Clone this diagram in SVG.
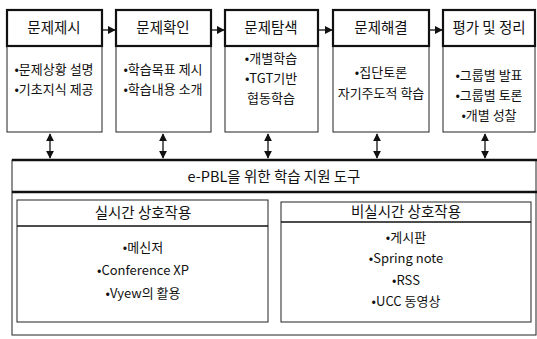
<svg xmlns="http://www.w3.org/2000/svg" width="537" height="339" viewBox="0 0 537 339">
<style>
text{font-family:"Noto Sans CJK KR","Liberation Sans",sans-serif;fill:#111;text-anchor:middle}
.h{font-size:14.5px}
.t{font-size:13px}
.head{fill:#fff;stroke:#111;stroke-width:2.2}
.body{fill:#fff;stroke:#222;stroke-width:1}
.ln{stroke:#111;stroke-width:1.3;fill:none}
.thick{stroke:#111;stroke-width:2.5;fill:none}
</style>
<defs>
<marker id="ah" viewBox="0 0 10 10" refX="9" refY="5" markerWidth="6" markerHeight="6" orient="auto-start-reverse"><path d="M0,0L10,5L0,10z" fill="#111"/></marker>
</defs>
<g id="step1">
<rect class="body" x="7" y="46" width="95" height="86"/>
<rect class="head" x="7" y="10" width="95" height="36"/>
<text class="h" x="54" y="33">문제제시</text>
<text class="t" x="54" y="74">•문제상황 설명</text>
<text class="t" x="54" y="94">•기초지식 제공</text>
</g>
<g id="step2">
<rect class="body" x="116" y="46" width="95" height="86"/>
<rect class="head" x="116" y="10" width="95" height="36"/>
<text class="h" x="163" y="33">문제확인</text>
<text class="t" x="163" y="74">•학습목표 제시</text>
<text class="t" x="163" y="94">•학습내용 소개</text>
</g>
<g id="step3">
<rect class="body" x="225" y="46" width="93" height="86"/>
<rect class="head" x="225" y="10" width="93" height="36"/>
<text class="h" x="271" y="33">문제탐색</text>
<text class="t" x="271" y="63">•개별학습</text>
<text class="t" x="271" y="83">•TGT기반</text>
<text class="t" x="271" y="103">협동학습</text>
</g>
<g id="step4">
<rect class="body" x="333" y="46" width="96" height="86"/>
<rect class="head" x="333" y="10" width="96" height="36"/>
<text class="h" x="381" y="33">문제해결</text>
<text class="t" x="381" y="77">•집단토론</text>
<text class="t" x="381" y="98">자기주도적 학습</text>
</g>
<g id="step5">
<rect class="body" x="443" y="46" width="92" height="86"/>
<rect class="head" x="443" y="10" width="92" height="36"/>
<text class="h" x="489" y="33">평가 및 정리</text>
<text class="t" x="489" y="80">•그룹별 발표</text>
<text class="t" x="489" y="100">•그룹별 토론</text>
<text class="t" x="489" y="120">•개별 성찰</text>
</g>
<g id="tools">
<rect class="body" x="12" y="160" width="524" height="175"/>
<line class="thick" x1="12" y1="160" x2="537" y2="160"/>
<line class="thick" x1="12" y1="192" x2="537" y2="192"/>
<text class="h" x="274" y="182">e-PBL을 위한 학습 지원 도구</text>
</g>
<g id="realtime">
<rect class="body" x="17" y="200" width="251" height="122"/>
<line class="ln" x1="17" y1="226" x2="268" y2="226" stroke-width="1"/>
<text class="h" x="143" y="218">실시간 상호작용</text>
<text class="t" x="143" y="252">•메신저</text>
<text class="t" x="143" y="275">•Conference XP</text>
<text class="t" x="143" y="298">•Vyew의 활용</text>
</g>
<g id="nonrealtime">
<rect class="body" x="281" y="202" width="250" height="120"/>
<line class="ln" x1="281" y1="222" x2="531" y2="222" stroke-width="1"/>
<text class="h" x="406" y="217">비실시간 상호작용</text>
<text class="t" x="406" y="242">•게시판</text>
<text class="t" x="406" y="263">•Spring note</text>
<text class="t" x="406" y="285">•RSS</text>
<text class="t" x="406" y="306">•UCC 동영상</text>
</g>
<g id="connectors">
<line class="ln" x1="103" y1="30" x2="115" y2="30" marker-end="url(#ah)"/>
<line class="ln" x1="212" y1="30" x2="224" y2="30" marker-end="url(#ah)"/>
<line class="ln" x1="319" y1="30" x2="332" y2="30" marker-end="url(#ah)"/>
<line class="ln" x1="430" y1="30" x2="442" y2="30" marker-end="url(#ah)"/>
<line class="ln" x1="50" y1="134" x2="50" y2="158" marker-start="url(#ah)" marker-end="url(#ah)"/>
<line class="ln" x1="163" y1="134" x2="163" y2="158" marker-start="url(#ah)" marker-end="url(#ah)"/>
<line class="ln" x1="268" y1="134" x2="268" y2="158" marker-start="url(#ah)" marker-end="url(#ah)"/>
<line class="ln" x1="377" y1="134" x2="377" y2="158" marker-start="url(#ah)" marker-end="url(#ah)"/>
<line class="ln" x1="485" y1="134" x2="485" y2="158" marker-start="url(#ah)" marker-end="url(#ah)"/>
</g>
</svg>
